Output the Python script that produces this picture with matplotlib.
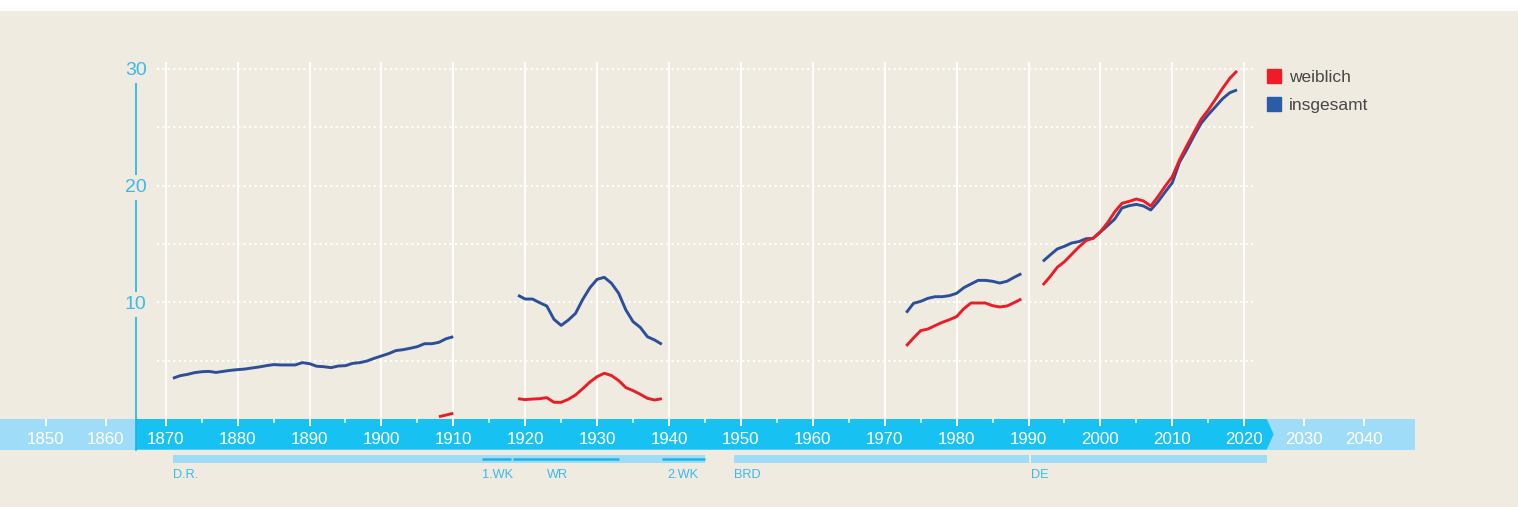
import numpy as np
import matplotlib
matplotlib.use('Agg')
import matplotlib.pyplot as plt
from matplotlib import font_manager
from matplotlib.lines import Line2D
from matplotlib.patches import Polygon, Rectangle

# Anteil in Prozent, insgesamt und weiblich
years_a = list(range(1871, 1911))
total_a = [3.49, 3.71, 3.82, 3.97, 4.05, 4.08, 3.99, 4.08, 4.17, 4.23,
           4.28, 4.37, 4.46, 4.57, 4.66, 4.63, 4.63, 4.63, 4.83, 4.74,
           4.52, 4.48, 4.40, 4.54, 4.57, 4.77, 4.83, 4.97, 5.20, 5.40,
           5.60, 5.86, 5.94, 6.06, 6.20, 6.45, 6.45, 6.57, 6.88, 7.05]
years_wa = [1908, 1909, 1910]
female_a = [0.20, 0.34, 0.49]

years_b = list(range(1919, 1940))
total_b = [10.6, 10.28, 10.28, 9.97, 9.68, 8.54, 8.02, 8.48, 9.05, 10.25,
           11.25, 11.97, 12.14, 11.63, 10.77, 9.34, 8.34, 7.85, 7.05, 6.77, 6.40]
female_b = [1.74, 1.66, 1.71, 1.74, 1.83, 1.43, 1.43, 1.69, 2.06, 2.60,
            3.17, 3.63, 3.92, 3.72, 3.29, 2.69, 2.43, 2.12, 1.77, 1.63, 1.74]

years_c = list(range(1973, 1990))
total_c = [9.11, 9.91, 10.08, 10.34, 10.48, 10.48, 10.57, 10.77, 11.25,
           11.57, 11.88, 11.88, 11.80, 11.65, 11.80, 12.14, 12.45]
female_c = [6.26, 6.94, 7.57, 7.71, 8.00, 8.28, 8.51, 8.77, 9.45,
            9.94, 9.94, 9.94, 9.71, 9.60, 9.68, 9.97, 10.28]

years_d = list(range(1992, 2020))
total_d = [13.51, 14.05, 14.57, 14.80, 15.08, 15.20, 15.45, 15.48, 16.02,
           16.57, 17.14, 18.08, 18.28, 18.39, 18.25, 17.91, 18.62, 19.45,
           20.25, 22.00, 23.07, 24.25, 25.33, 26.08, 26.76, 27.45, 27.96, 28.20]
female_d = [11.48, 12.20, 13.00, 13.48, 14.11, 14.74, 15.28, 15.50, 16.05,
            16.82, 17.76, 18.48, 18.65, 18.85, 18.68, 18.25, 19.05, 19.94,
            20.77, 22.20, 23.40, 24.54, 25.68, 26.48, 27.40, 28.34, 29.20, 29.83]

# Zeitleiste
decades = list(range(1850, 2050, 10))
grid_decades = list(range(1870, 2030, 10))
half_ticks = list(range(1875, 2020, 10))
y_ticks = [10, 20, 30]
y_dotted = [5, 10, 15, 20, 25, 30]

period_names = ['D.R.', 'BRD', 'DE']
period_start = [1871, 1949, 1990.3]
period_end = [1945, 1990, 2023.75]
war_names = ['1.WK', 'WR', '2.WK']
war_start = [1914, 1918.3, 1939]
war_end = [1918, 1933, 1945]
war_label_x = [1914, 1923, 1939.8]

BG = '#f0ebe1'
DARK_BAND = '#17c1f2'
LIGHT_BAND = '#9fdcf8'
AXIS_BLUE = '#1ab4e8'
LABEL_BLUE = '#3cb9eb'
RED = '#ea1d27'
BLUE = '#2c4f98'

names = {f.name for f in font_manager.fontManager.ttflist}
if 'Liberation Sans Narrow' in names:
    cond_font, year_size, small_size = 'Liberation Sans Narrow', 14, 10.5
else:
    cond_font, year_size, small_size = 'Liberation Sans', 12.2, 9.2
plain_font = 'Liberation Sans' if 'Liberation Sans' in names else 'DejaVu Sans'

# links und rechts der Zeitleiste ist die Skala gestaucht
INNER = 7.19
OUTER = 6.0


def fwd(x):
    x = np.asarray(x, dtype=float)
    return np.where(x < 1870, 1870 + (x - 1870) * OUTER / INNER,
                    np.where(x > 2020, 2020 + (x - 2020) * OUTER / INNER, x))


def inv(s):
    s = np.asarray(s, dtype=float)
    return np.where(s < 1870, 1870 + (s - 1870) * INNER / OUTER,
                    np.where(s > 2020, 2020 + (s - 2020) * INNER / OUTER, s))


fig = plt.figure(figsize=(15.18, 5.07), dpi=100, facecolor=BG)
ax = fig.add_axes([0, 0, 1, 1])
ax.set_axis_off()
ax.set_xscale('function', functions=(fwd, inv))
ax.set_xlim(1842.38, 2065.63)
ax.set_ylim(-7.541, 35.904)
fig.add_artist(Rectangle((0, 496 / 507), 1, 11 / 507, transform=fig.transFigure,
                         facecolor='white', edgecolor='none'))

# band
band_lo, band_hi = -2.62, 0
ax.add_patch(Rectangle((1842.38, band_lo), 2048.5 - 1842.38, band_hi - band_lo,
                       facecolor=LIGHT_BAND, edgecolor='none', zorder=1))
ax.add_patch(Polygon([(1865, band_hi), (2023.75, band_hi), (2024.9, (band_lo + band_hi) / 2),
                      (2023.75, band_lo), (1865, band_lo)],
                     closed=True, facecolor=DARK_BAND, edgecolor='none', zorder=1.5))

# gitter
for v in y_dotted:
    ax.plot([1868.55, 2021.45], [v, v], color='white', lw=1.5,
            ls=(0, (1, 1.6)), zorder=2)
ax.vlines(grid_decades, -0.6, 30.6, color='white', lw=1.3, zorder=2)
ax.vlines(decades, -0.6, 0, color='white', lw=1.3, zorder=2)
ax.vlines(half_ticks, -0.34, 0, color='white', lw=1.1, zorder=2)

for d in decades:
    ax.text(d, -1.63, str(d), color='white', fontsize=year_size, family=cond_font,
            ha='center', va='center_baseline', zorder=3)

# y-achse
ax.plot([1865, 1865], [band_lo, 28.9], color=AXIS_BLUE, lw=1.2, zorder=3)
for v in y_ticks:
    ax.text(1865, v, str(v), color=LABEL_BLUE, fontsize=14, family=plain_font,
            ha='center', va='center_baseline', zorder=4,
            bbox=dict(boxstyle='square,pad=0.2', facecolor=BG, edgecolor='none'))

# epochen
ax.barh([-3.41] * len(period_names), np.subtract(period_end, period_start),
        left=period_start, height=0.66, color=LIGHT_BAND, zorder=2)
for n, s in zip(period_names, period_start):
    ax.text(s, -4.71, n, color=LABEL_BLUE, fontsize=small_size, family=cond_font,
            ha='left', va='center_baseline')
for s, e in zip(war_start, war_end):
    ax.plot([s, e], [-3.41, -3.41], color=AXIS_BLUE, lw=1.8, zorder=3,
            solid_capstyle='butt')
for n, lx in zip(war_names, war_label_x):
    ax.text(lx, -4.71, n, color=LABEL_BLUE, fontsize=small_size, family=cond_font,
            ha='left', va='center_baseline')

# linien
for yrs, vals in [(years_a, total_a), (years_b, total_b), (years_c, total_c), (years_d, total_d)]:
    ax.plot(yrs, vals, color=BLUE, lw=2.1, zorder=5, solid_capstyle='butt')
for yrs, vals in [(years_wa, female_a), (years_b, female_b), (years_c, female_c), (years_d, female_d)]:
    ax.plot(yrs, vals, color=RED, lw=2.1, zorder=6, solid_capstyle='butt')

handles = [Line2D([], [], marker='s', ls='none', ms=9.5, color='#ee1c25'),
           Line2D([], [], marker='s', ls='none', ms=9.5, color='#2a5ca8')]
ax.legend(handles, ['weiblich', 'insgesamt'], loc='upper left',
          bbox_to_anchor=(1267.5 / 1518, (507 - 70) / 507), frameon=False,
          borderpad=0, borderaxespad=0, handlelength=0.8, handletextpad=0.45,
          labelspacing=0.72, prop={'family': plain_font, 'size': 12.5},
          labelcolor='#474747')

fig.savefig('out.png', dpi=100, facecolor=fig.get_facecolor())
